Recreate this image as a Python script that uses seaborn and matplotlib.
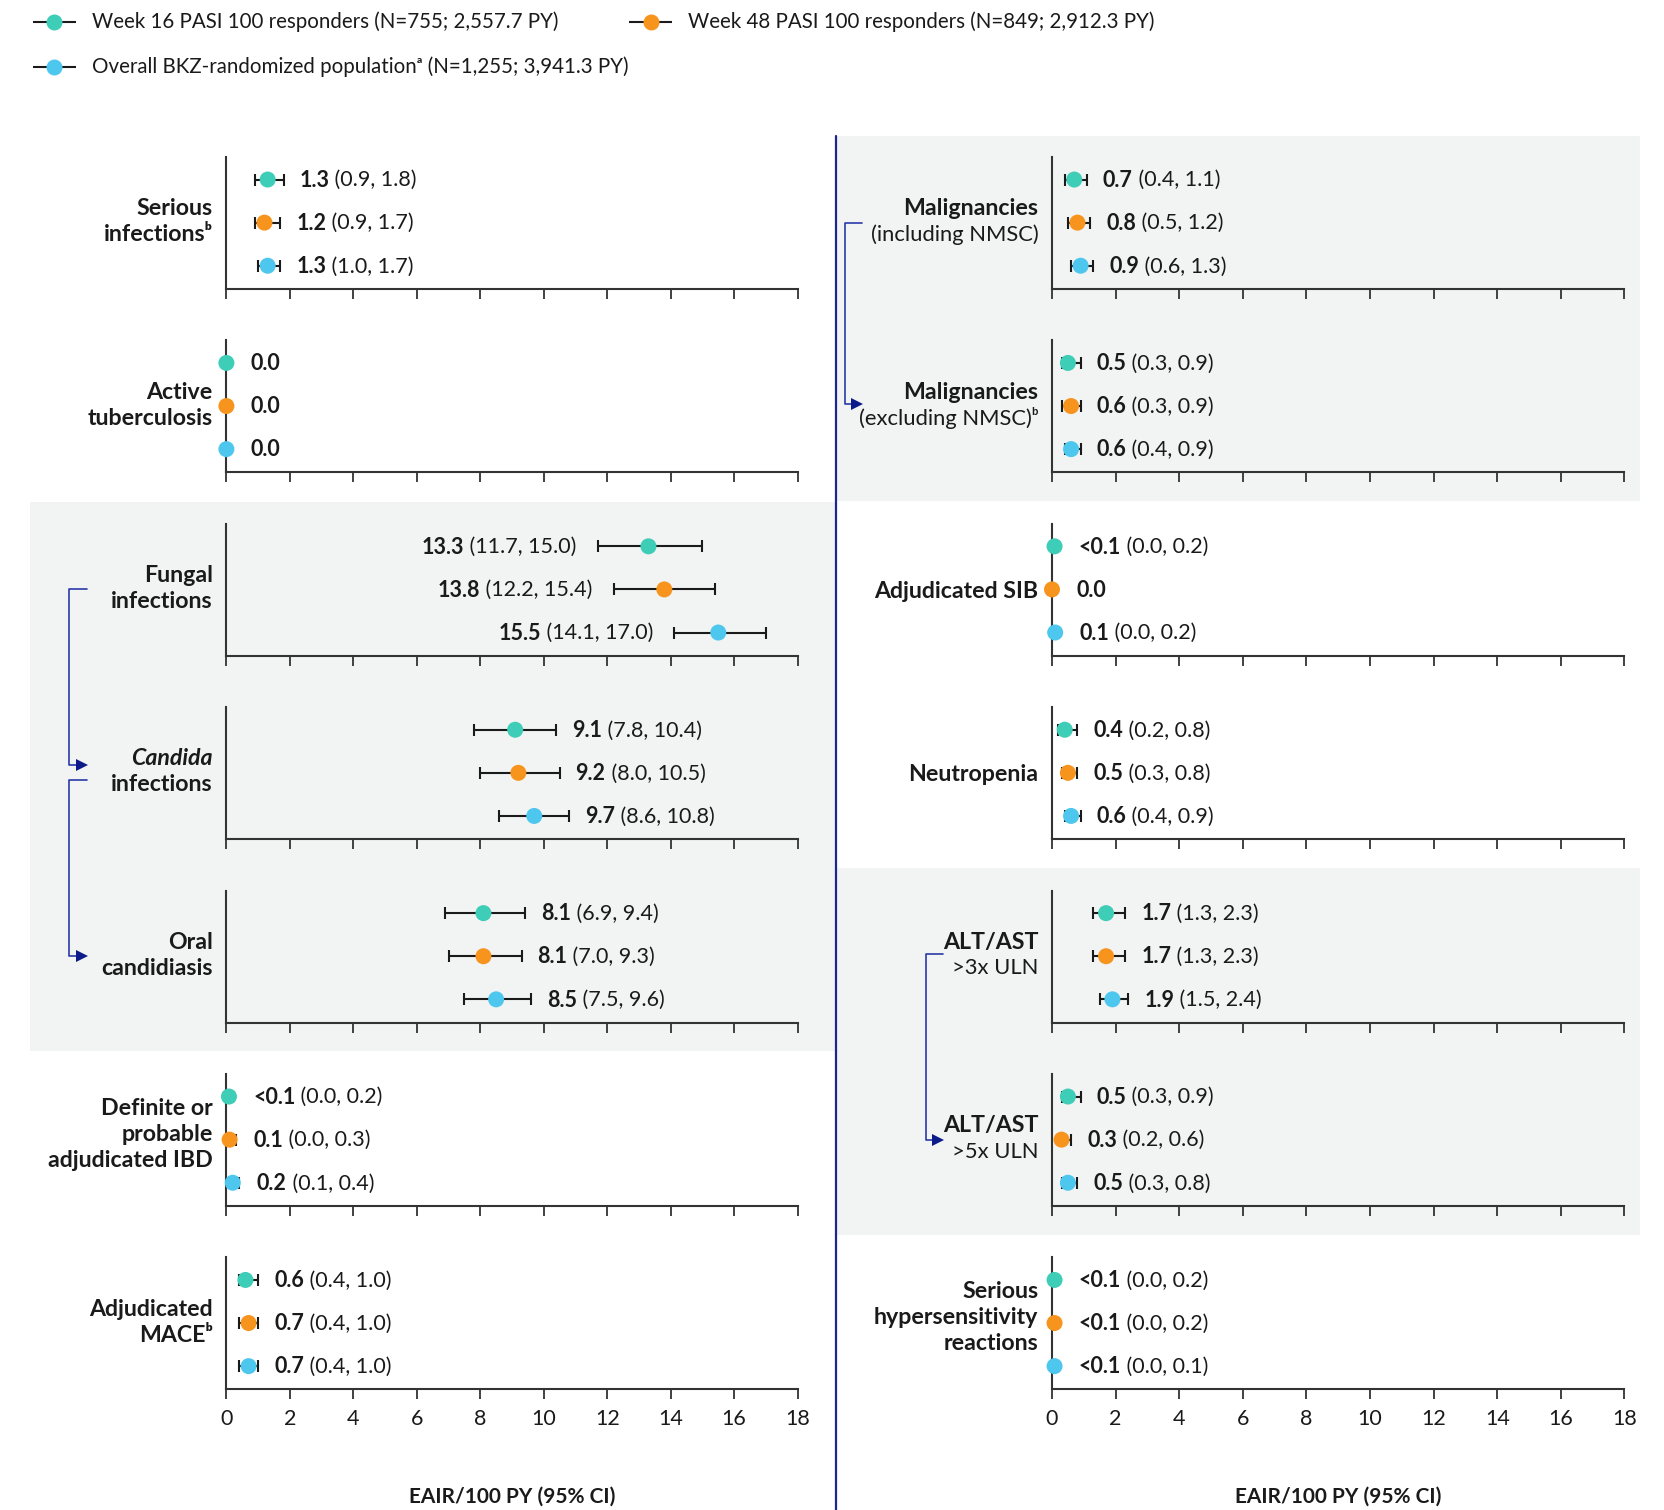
import numpy as np
import pandas as pd
import matplotlib
matplotlib.use("Agg")
import matplotlib.pyplot as plt
import seaborn as sns
from matplotlib.lines import Line2D
from matplotlib.patches import Rectangle

# ----------------------- Data -----------------------

GROUPS = ["Week 16", "Week 48", "Overall"]
LEGEND_LABELS = [
    "Week 16 PASI 100 responders (N=755; 2,557.7 PY)",
    "Week 48 PASI 100 responders (N=849; 2,912.3 PY)",
    "Overall BKZ-randomized populationᵃ (N=1,255; 3,941.3 PY)",
]
COLORS = ["#3ECDB7", "#F7941D", "#4EC7EE"]

LEFT_LABEL_LINES = [
    ["Serious", "infectionsᵇ"],
    ["Active", "tuberculosis"],
    ["Fungal", "infections"],
    ["Candida", "infections"],
    ["Oral", "candidiasis"],
    ["Definite or", "probable", "adjudicated IBD"],
    ["Adjudicated", "MACEᵇ"],
]
LEFT_RATE = [[1.3, 1.2, 1.3], [0.0, 0.0, 0.0], [13.3, 13.8, 15.5], [9.1, 9.2, 9.7],
             [8.1, 8.1, 8.5], [0.08, 0.1, 0.2], [0.6, 0.7, 0.7]]
LEFT_RATE_TEXT = [["1.3", "1.2", "1.3"], ["0.0", "0.0", "0.0"], ["13.3", "13.8", "15.5"],
                  ["9.1", "9.2", "9.7"], ["8.1", "8.1", "8.5"], ["<0.1", "0.1", "0.2"],
                  ["0.6", "0.7", "0.7"]]
LEFT_LO = [[0.9, 0.9, 1.0], [np.nan, np.nan, np.nan], [11.7, 12.2, 14.1], [7.8, 8.0, 8.6],
           [6.9, 7.0, 7.5], [0.0, 0.0, 0.1], [0.4, 0.4, 0.4]]
LEFT_HI = [[1.8, 1.7, 1.7], [np.nan, np.nan, np.nan], [15.0, 15.4, 17.0], [10.4, 10.5, 10.8],
           [9.4, 9.3, 9.6], [0.2, 0.3, 0.4], [1.0, 1.0, 1.0]]

RIGHT_LABEL_LINES = [
    ["Malignancies", "(including NMSC)"],
    ["Malignancies", "(excluding NMSC)ᵇ"],
    ["Adjudicated SIB"],
    ["Neutropenia"],
    ["ALT/AST", ">3x ULN"],
    ["ALT/AST", ">5x ULN"],
    ["Serious", "hypersensitivity", "reactions"],
]
RIGHT_RATE = [[0.7, 0.8, 0.9], [0.5, 0.6, 0.6], [0.08, 0.0, 0.1], [0.4, 0.5, 0.6],
              [1.7, 1.7, 1.9], [0.5, 0.3, 0.5], [0.08, 0.08, 0.08]]
RIGHT_RATE_TEXT = [["0.7", "0.8", "0.9"], ["0.5", "0.6", "0.6"], ["<0.1", "0.0", "0.1"],
                   ["0.4", "0.5", "0.6"], ["1.7", "1.7", "1.9"], ["0.5", "0.3", "0.5"],
                   ["<0.1", "<0.1", "<0.1"]]
RIGHT_LO = [[0.4, 0.5, 0.6], [0.3, 0.3, 0.4], [0.0, np.nan, 0.0], [0.2, 0.3, 0.4],
            [1.3, 1.3, 1.5], [0.3, 0.2, 0.3], [0.0, 0.0, 0.0]]
RIGHT_HI = [[1.1, 1.2, 1.3], [0.9, 0.9, 0.9], [0.2, np.nan, 0.2], [0.8, 0.8, 0.9],
            [2.3, 2.3, 2.4], [0.9, 0.6, 0.8], [0.2, 0.2, 0.1]]

X_TICKS = list(range(0, 19, 2))
X_LABEL = "EAIR/100 PY (95% CI)"

# label lines drawn in regular weight / italic instead of bold
PLAIN_LINES = {"(including NMSC)", "(excluding NMSC)ᵇ", ">3x ULN", ">5x ULN"}
ITALIC_LINES = {"Candida"}

# ----------------------- Layout constants (pixels) -----------------------

FIG_W, FIG_H = 1665, 1510
ROW_PITCH = 183.4
FIRST_BOTTOM = 289
AX_H = 132
COL_X = [(226.4, 797.6), (1052, 1624.5)]
# legend key centre (x, y) per group, in pixels
LEGEND_POS = [(54.5, 21.7), (651, 21.7), (54.5, 66.7)]

TEXT_C = "#1a1a1a"
AXIS_C = "#333333"
NAVY = "#1b2593"
BRACKET_C = "#2a3aa8"
GRAY_BG = "#f2f3f3"
LABEL_FS = 16.7
PLAIN_FS = 15.8
VAL_FS = 15.5
TICK_FS = 15.5
LEGEND_FS = 14.8
# vertical nudge (points) of a label block, by number of lines
LABEL_SHIFT = {1: -1.5, 2: 0.7, 3: 3.8}

sns.set_style("white")
plt.rcParams["font.family"] = ["Lato", "DejaVu Sans"]
plt.rcParams["text.color"] = TEXT_C


def fx(x):
    return x / FIG_W


def fy(y):
    return 1 - y / FIG_H


def build_frame(label_lines, rate, rate_text, lo, hi):
    """
    Long table: one row per event and group.
    """
    rows = []
    for i, lines in enumerate(label_lines):
        for j, g in enumerate(GROUPS):
            rows.append({"event": i, "group": g, "pos": j, "rate": rate[i][j],
                         "rate_text": rate_text[i][j], "lo": lo[i][j], "hi": hi[i][j]})
    return pd.DataFrame(rows)


def draw_value_text(ax, r):
    """
    Bold rate followed by the regular-weight CI.
    """
    has_ci = np.isfinite(r["lo"])
    ci_text = f" ({r['lo']:.1f}, {r['hi']:.1f})" if has_ci else ""
    kw = dict(fontsize=VAL_FS, color=TEXT_C, va="center", annotation_clip=False)
    if has_ci and r["rate"] > 12:
        # wide values: text sits left of the lower whisker
        ci = ax.annotate(ci_text, xy=(r["lo"], r["pos"]), xytext=(-15, -0.5),
                         textcoords="offset points", ha="right", **kw)
        ax.annotate(r["rate_text"], xy=(0, 0.5), xycoords=ci, ha="right",
                    fontweight="bold", **kw)
        return
    if has_ci and r["hi"] - r["rate"] >= 0.25:
        x, off = r["hi"], 11.5
    else:
        x, off = r["rate"], 17.3
    val = ax.annotate(r["rate_text"], xy=(x, r["pos"]), xytext=(off, -0.5),
                      textcoords="offset points", ha="left", fontweight="bold", **kw)
    if has_ci:
        ax.annotate(ci_text, xy=(1, 0.5), xycoords=val, ha="left", **kw)


def draw_event_label(ax, lines):
    n = len(lines)
    for i, line in enumerate(lines):
        dy = ((n - 1) / 2 - i) * 18.7 + LABEL_SHIFT[n]
        plain = line in PLAIN_LINES
        ax.annotate(line, xy=(0, 1), xycoords=("axes fraction", "data"),
                    xytext=(-9.8, dy), textcoords="offset points", ha="right", va="center",
                    fontsize=PLAIN_FS if plain else LABEL_FS, color=TEXT_C,
                    fontweight="normal" if plain else "bold",
                    fontstyle="italic" if line in ITALIC_LINES else "normal",
                    annotation_clip=False)


def draw_panel(fig, col, k, df, lines):
    x0, x1 = COL_X[col]
    bottom_px = FIRST_BOTTOM + ROW_PITCH * k
    ax = fig.add_axes([fx(x0), fy(bottom_px), (x1 - x0) / FIG_W, AX_H / FIG_H])
    ax.set_facecolor("none")

    ci = df[np.isfinite(df["lo"])]
    if len(ci):
        ax.errorbar(ci["rate"], ci["pos"], xerr=[ci["rate"] - ci["lo"], ci["hi"] - ci["rate"]],
                    fmt="none", ecolor=TEXT_C, elinewidth=1.5, capsize=4, capthick=1.5,
                    zorder=2, clip_on=False)
    sns.scatterplot(data=df, x="rate", y="pos", hue="group", palette=COLORS,
                    hue_order=GROUPS, s=133, linewidth=0, legend=False, ax=ax, zorder=3)
    for coll in ax.collections:
        coll.set_clip_on(False)

    for _, r in df.iterrows():
        draw_value_text(ax, r)
    draw_event_label(ax, lines)

    ax.set_xlim(0, 18)
    ax.set_ylim(2.54, -0.523)
    ax.set_xticks(X_TICKS)
    ax.set_yticks([])
    ax.set_xlabel("")
    ax.set_ylabel("")
    for side in ["top", "right"]:
        ax.spines[side].set_visible(False)
    for side in ["left", "bottom"]:
        ax.spines[side].set_color(AXIS_C)
        ax.spines[side].set_linewidth(1.5)
    ax.tick_params(axis="x", direction="out", length=7, width=1.3, color=AXIS_C,
                   labelsize=TICK_FS, labelcolor=TEXT_C, pad=7, labelbottom=(k == 6),
                   bottom=True)
    return ax


def add_bracket(fig, x_v, x_end, y_top, y_bot):
    """
    Elbow connector with arrow head between two event labels.
    """
    xs = [fx(x_end), fx(x_v), fx(x_v), fx(x_end - 10)]
    ys = [fy(y_top), fy(y_top), fy(y_bot), fy(y_bot)]
    fig.add_artist(Line2D(xs, ys, color=BRACKET_C, lw=1.2, transform=fig.transFigure))
    fig.add_artist(Line2D([fx(x_end - 5)], [fy(y_bot)], marker=">", markersize=9,
                          color="#0c1a8a", markeredgewidth=0, transform=fig.transFigure))


def add_legend_entry(fig, cx, cy, color, label):
    """
    Legend key drawn as a small errorbar (cap-dot-cap) plus its text.
    """
    kax = fig.add_axes([fx(cx - 21.5), fy(cy + 10), 43 / FIG_W, 20 / FIG_H])
    kax.errorbar([0], [0], xerr=[[1], [1]], fmt="o", color=color, ecolor=TEXT_C,
                 markersize=11.5, markeredgewidth=0, elinewidth=1.5, capsize=4.5,
                 capthick=1.8, clip_on=False)
    kax.set_xlim(-1, 1)
    kax.set_ylim(-1, 1)
    kax.set_axis_off()
    fig.text(fx(cx + 37.5), fy(cy), label, ha="left", va="center",
             fontsize=LEGEND_FS, color=TEXT_C)


# ----------------------- Figure -----------------------

fig = plt.figure(figsize=(FIG_W / 100, FIG_H / 100), dpi=100)

# shaded blocks and centre divider
for x0, y0, x1, y1 in [(30, 502, 836, 1051), (836, 136, 1640, 501), (836, 868, 1640, 1235)]:
    fig.add_artist(Rectangle((fx(x0), fy(y1)), fx(x1) - fx(x0), fy(y0) - fy(y1),
                             transform=fig.transFigure, facecolor=GRAY_BG,
                             edgecolor="none", zorder=-5))
fig.add_artist(Line2D([fx(836), fx(836)], [fy(136), 0], color=NAVY, lw=1.6,
                      transform=fig.transFigure))

left_df = build_frame(LEFT_LABEL_LINES, LEFT_RATE, LEFT_RATE_TEXT, LEFT_LO, LEFT_HI)
right_df = build_frame(RIGHT_LABEL_LINES, RIGHT_RATE, RIGHT_RATE_TEXT, RIGHT_LO, RIGHT_HI)

for col, (df, labels) in enumerate([(left_df, LEFT_LABEL_LINES), (right_df, RIGHT_LABEL_LINES)]):
    for k, lines in enumerate(labels):
        draw_panel(fig, col, k, df[df["event"] == k], lines)
    x0, x1 = COL_X[col]
    fig.text(fx((x0 + x1) / 2), fy(1507), X_LABEL, ha="center", va="bottom",
             fontsize=15, fontweight="bold", color=TEXT_C)

add_bracket(fig, 69, 87, 589, 765)
add_bracket(fig, 69, 87, 780, 956)
add_bracket(fig, 845, 862, 223, 404)
add_bracket(fig, 926, 943, 954, 1140)

for (cx, cy), color, label in zip(LEGEND_POS, COLORS, LEGEND_LABELS):
    add_legend_entry(fig, cx, cy, color, label)

fig.savefig("out.png", dpi=100)
